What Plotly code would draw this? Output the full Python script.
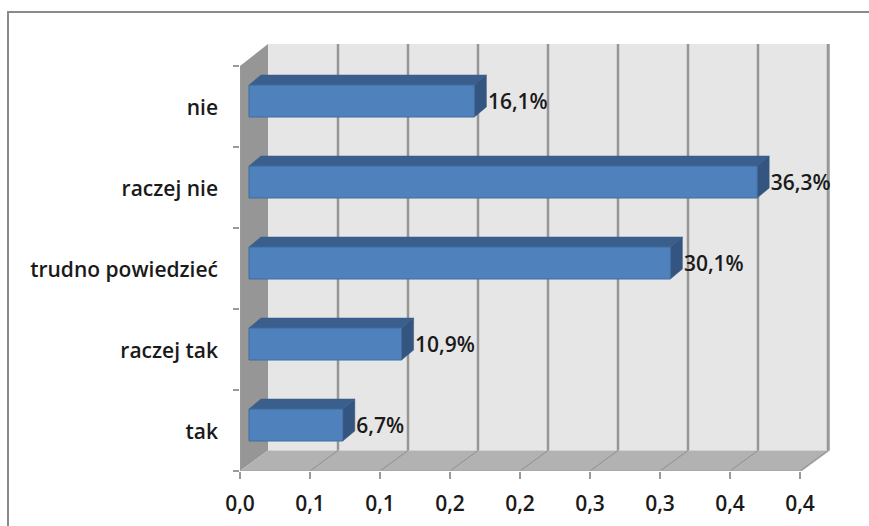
import plotly.graph_objects as go

categories = ["tak", "raczej tak", "trudno powiedzieć", "raczej nie", "nie"]
values = [0.067, 0.109, 0.301, 0.363, 0.161]
value_labels = ["6,7%", "10,9%", "30,1%", "36,3%", "16,1%"]
x_ticks = [0, 0.05, 0.10, 0.15, 0.20, 0.25, 0.30, 0.35, 0.40]
x_tick_labels = ["0,0", "0,1", "0,1", "0,2", "0,2", "0,3", "0,3", "0,4", "0,4"]

W, H = 869, 526
L, R, T, B = 240, 830, 44, 471
PX_PER_X = 1400.0
PX_PER_Y = 81.0
X_MAX = (R - L) / PX_PER_X
Y_MAX = (B - T) / PX_PER_Y
WALL_DX = 28 / PX_PER_X
WALL_DY = 20.5 / PX_PER_Y
BAR_BASE = 9 / PX_PER_X
BAR_SHIFT = 5.5 / PX_PER_Y
BAR_H = 32 / PX_PER_Y
BAR_DX = 12 / PX_PER_X
BAR_DY = 10 / PX_PER_Y
LABEL_GAP_X = 1.5 / PX_PER_X
LABEL_SHIFT_Y = -5 / PX_PER_Y
CATEGORY_LABEL_SHIFT = -1.5 / PX_PER_Y

positions = [i + 0.5 for i in range(len(categories))]
FONT = "Open Sans"
TXT = "#1a1a1a"
TEXT_FONT = dict(family=FONT, size=21, color=TXT, weight=600)


def poly(pts):
    return "M " + " L ".join(f"{x},{y}" for x, y in pts) + " Z"


def shape(pts, fill, line=None, width=0):
    return dict(type="path", path=poly(pts), xref="x", yref="y", layer="below",
                fillcolor=fill, line=dict(color=line or fill, width=width))


def seg(x0, y0, x1, y1, color, width):
    return dict(type="line", x0=x0, y0=y0, x1=x1, y1=y1, xref="x", yref="y",
                layer="below", line=dict(color=color, width=width))


front_top = len(categories)
shapes = [
    shape([(WALL_DX, WALL_DY), (X_MAX, WALL_DY), (X_MAX, Y_MAX), (WALL_DX, Y_MAX)], "#e6e6e6"),
    shape([(0, 0), (0, front_top), (WALL_DX, Y_MAX), (WALL_DX, WALL_DY)], "#969696"),
    shape([(0, 0), (WALL_DX, WALL_DY), (X_MAX, WALL_DY), (X_MAX - WALL_DX, 0)], "#b2b2b2"),
]
for t in x_ticks[1:]:
    shapes.append(seg(t + WALL_DX, WALL_DY, t + WALL_DX, Y_MAX, "#969696", 2.5))
    shapes.append(seg(t, 0, t + WALL_DX, WALL_DY, "#8f8f8f", 1))
shapes.append(seg(X_MAX, WALL_DY, X_MAX, Y_MAX, "#b0b0b0", 2.5))
shapes.append(seg(0, 0, 0, front_top, "#9a9a9a", 1.5))
shapes.append(seg(0, 0, X_MAX - WALL_DX, 0, "#a6a6a6", 1.5))

for pos, val in zip(positions, values):
    x1 = BAR_BASE + val
    y0 = pos + BAR_SHIFT - BAR_H / 2
    y1 = pos + BAR_SHIFT + BAR_H / 2
    shapes.append(shape([(BAR_BASE, y1), (BAR_BASE + BAR_DX, y1 + BAR_DY),
                         (x1 + BAR_DX, y1 + BAR_DY), (x1, y1)], "#3a5f8c", "#375a85", 0.5))
    shapes.append(shape([(x1, y0), (x1 + BAR_DX, y0 + BAR_DY),
                         (x1 + BAR_DX, y1 + BAR_DY), (x1, y1)], "#34557f", "#375a85", 0.5))


def px(v):
    return (v - L) / (R - L)


def py(v):
    return (B - v) / (B - T)


shapes.append(dict(type="path", xref="paper", yref="paper", layer="below",
                   path=f"M {px(8)},{py(H)} L {px(8)},{py(12)} L {px(W)},{py(12)}",
                   line=dict(color="#8a8a8a", width=2)))

fig = go.Figure()
fig.add_trace(go.Bar(
    orientation="h",
    y=[p + BAR_SHIFT for p in positions],
    x=values,
    base=BAR_BASE,
    width=BAR_H,
    marker=dict(color="#4f81bd", line=dict(color="#3f6c9f", width=1)),
    hoverinfo="skip",
))
fig.add_trace(go.Scatter(
    x=[BAR_BASE + v + BAR_DX + LABEL_GAP_X for v in values],
    y=[p + BAR_SHIFT + BAR_DY / 2 + LABEL_SHIFT_Y - 0.03 for p in positions],
    mode="text",
    text=value_labels,
    textposition="middle right",
    textfont=TEXT_FONT,
    cliponaxis=False,
    hoverinfo="skip",
))

fig.update_layout(
    width=W, height=H,
    autosize=False,
    margin=dict(l=L, r=W - R, t=T, b=H - B, pad=0),
    paper_bgcolor="white",
    plot_bgcolor="white",
    showlegend=False,
    shapes=shapes,
    xaxis=dict(
        range=[0, X_MAX], tickvals=x_ticks, ticktext=x_tick_labels, automargin=False,
        ticks="outside", ticklen=7, tickcolor="#9a9a9a", tickwidth=1.5,
        ticklabelstandoff=7, showgrid=False, zeroline=False, showline=False,
        tickfont=TEXT_FONT,
    ),
    yaxis=dict(
        range=[0, Y_MAX], tickvals=[p + CATEGORY_LABEL_SHIFT for p in positions],
        ticktext=categories, automargin=False,
        ticks="", ticklabelstandoff=21, showgrid=False, zeroline=False, showline=False,
        tickfont=TEXT_FONT,
        minor=dict(tickvals=list(range(len(categories) + 1)), ticks="outside",
                   ticklen=6, tickcolor="#9a9a9a", tickwidth=1.5, showgrid=False),
    ),
)

fig.write_html("out.html", config={"displayModeBar": False},
               post_script="document.body.style.margin='0';")
